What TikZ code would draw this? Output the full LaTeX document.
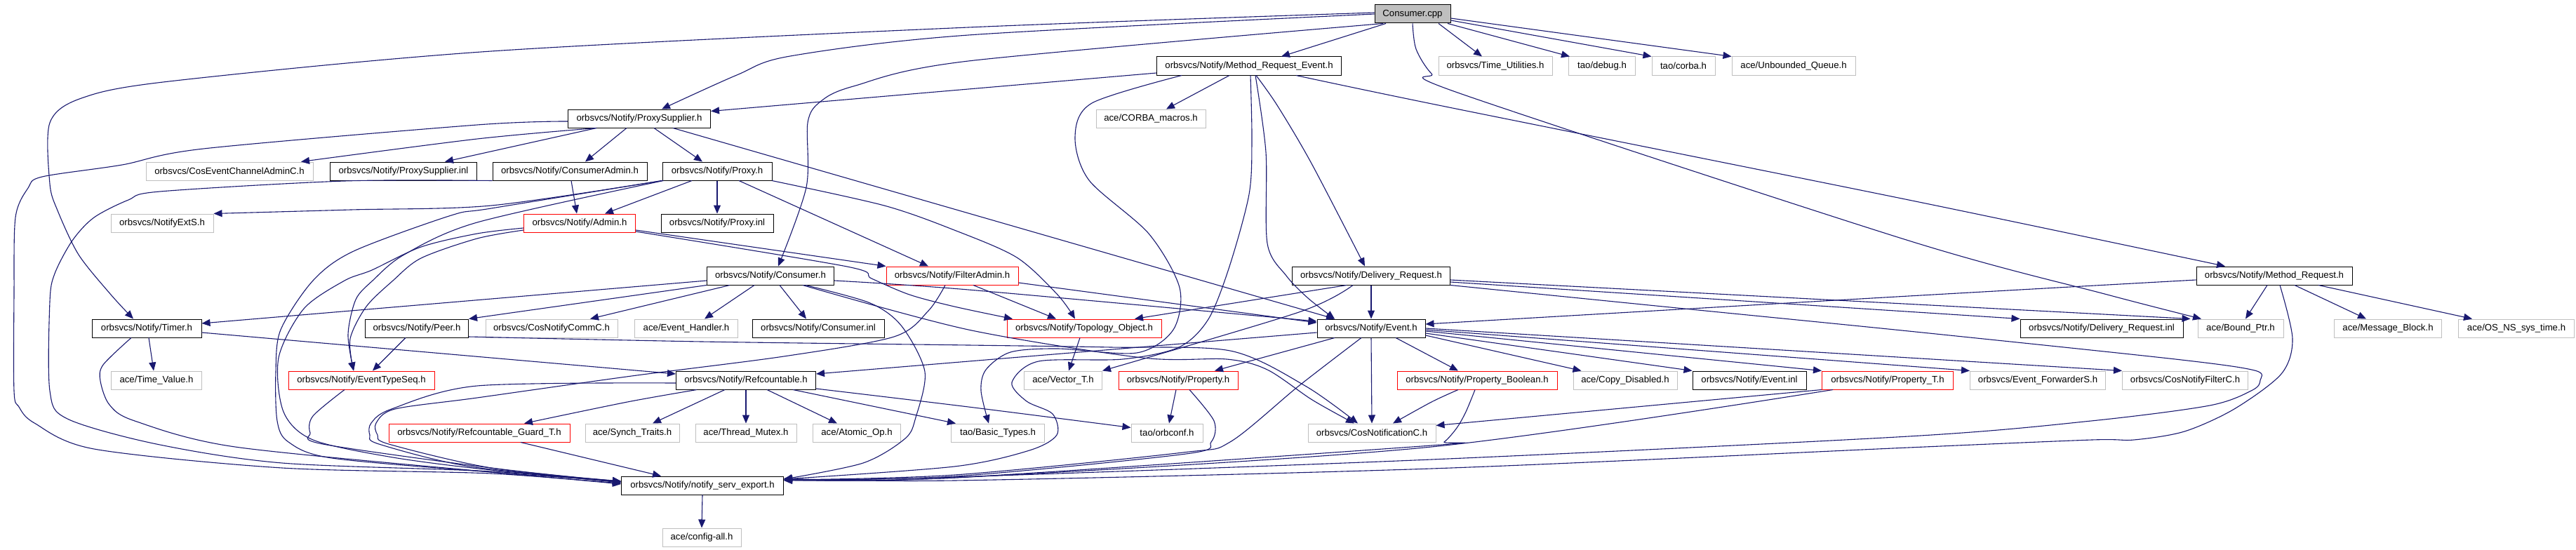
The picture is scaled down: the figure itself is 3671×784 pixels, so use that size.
\documentclass[tikz,border=0pt]{standalone}
\usepackage{fontspec}
\usetikzlibrary{arrows.meta}
\newfontfamily\lsans{Liberation Sans}
\newcommand\nodefnt{\lsans\fontsize{13.2bp}{15bp}\selectfont}
\definecolor{edgec}{HTML}{191970}
\definecolor{gray75}{HTML}{BFBFBF}
\begin{document}
\begin{tikzpicture}[x=1bp,y=-1bp,
  nd/.style={draw=black, fill=white, line width=1bp, minimum height=26bp, inner sep=0pt, font=\nodefnt, text=black},
  nr/.style={nd, draw=red},
  ng/.style={nd, draw=gray75},
  e/.style={draw=edgec, line width=1.1bp, -{Triangle[length=12bp,width=10bp]}},
  sm/.style={smooth, tension=0.5}]
\fill[white] (0,0) rectangle (3671,784);
\useasboundingbox (0,0) rectangle (3671,784);
% nodes
\node[nd, fill=gray75, minimum width=108bp] (C) at (2013,20) {Consumer.cpp};
\node[nd, minimum width=263bp] (MRE) at (1780,94) {orbsvcs/Notify/Method\_Request\_Event.h};
\node[ng, minimum width=162bp] (TU) at (2131,94) {orbsvcs/Time\_Utilities.h};
\node[ng, minimum width=95bp] (TD) at (2283,94) {tao/debug.h};
\node[ng, minimum width=90bp] (TC) at (2399,94) {tao/corba.h};
\node[ng, minimum width=176bp] (UQ) at (2556,94) {ace/Unbounded\_Queue.h};
\node[nd, minimum width=203bp] (PS) at (911,169) {orbsvcs/Notify/ProxySupplier.h};
\node[ng, minimum width=156bp] (CM) at (1640,169) {ace/CORBA\_macros.h};
\node[ng, minimum width=238bp] (CEC) at (327,244) {orbsvcs/CosEventChannelAdminC.h};
\node[nd, minimum width=209bp] (PSI) at (575,244) {orbsvcs/Notify/ProxySupplier.inl};
\node[nd, minimum width=220bp] (CA) at (812,244) {orbsvcs/Notify/ConsumerAdmin.h};
\node[nd, minimum width=156bp] (PX) at (1022,244) {orbsvcs/Notify/Proxy.h};
\node[ng, minimum width=146bp] (NES) at (231,318) {orbsvcs/NotifyExtS.h};
\node[nr, minimum width=159bp] (AD) at (826,318) {orbsvcs/Notify/Admin.h};
\node[nd, minimum width=160bp] (PXI) at (1022,318) {orbsvcs/Notify/Proxy.inl};
\node[nd, minimum width=181bp] (CN) at (1098,393) {orbsvcs/Notify/Consumer.h};
\node[nr, minimum width=188bp] (FA) at (1357,393) {orbsvcs/Notify/FilterAdmin.h};
\node[nd, minimum width=225bp] (DR) at (1954,393) {orbsvcs/Notify/Delivery\_Request.h};
\node[nd, minimum width=222bp] (MR) at (3241,393) {orbsvcs/Notify/Method\_Request.h};
\node[nd, minimum width=156bp] (TM) at (209,468) {orbsvcs/Notify/Timer.h};
\node[nd, minimum width=147bp] (PE) at (594,468) {orbsvcs/Notify/Peer.h};
\node[ng, minimum width=188bp] (CNC) at (786,468) {orbsvcs/CosNotifyCommC.h};
\node[ng, minimum width=147bp] (EH) at (978,468) {ace/Event\_Handler.h};
\node[nd, minimum width=188bp] (CI) at (1166,468) {orbsvcs/Notify/Consumer.inl};
\node[nr, minimum width=220bp] (TO) at (1545,468) {orbsvcs/Notify/Topology\_Object.h};
\node[nd, minimum width=154bp] (EV) at (1954,468) {orbsvcs/Notify/Event.h};
\node[nd, minimum width=232bp] (DRI) at (2995,468) {orbsvcs/Notify/Delivery\_Request.inl};
\node[ng, minimum width=122bp] (BP) at (3193,468) {ace/Bound\_Ptr.h};
\node[ng, minimum width=153bp] (MB) at (3403,468) {ace/Message\_Block.h};
\node[ng, minimum width=165bp] (OS) at (3586,468) {ace/OS\_NS\_sys\_time.h};
\node[ng, minimum width=129bp] (TV) at (223,542) {ace/Time\_Value.h};
\node[nr, minimum width=208bp] (ETS) at (515,542) {orbsvcs/Notify/EventTypeSeq.h};
\node[nd, minimum width=199bp] (RC) at (1063,542) {orbsvcs/Notify/Refcountable.h};
\node[ng, minimum width=111bp] (VT) at (1515,542) {ace/Vector\_T.h};
\node[nr, minimum width=170bp] (PR) at (1679,542) {orbsvcs/Notify/Property.h};
\node[nr, minimum width=228bp] (PB) at (2105,542) {orbsvcs/Notify/Property\_Boolean.h};
\node[ng, minimum width=148bp] (CD) at (2316,542) {ace/Copy\_Disabled.h};
\node[nd, minimum width=162bp] (EI) at (2493,542) {orbsvcs/Notify/Event.inl};
\node[nr, minimum width=187bp] (PT) at (2690,542) {orbsvcs/Notify/Property\_T.h};
\node[ng, minimum width=193bp] (EF) at (2904,542) {orbsvcs/Event\_ForwarderS.h};
\node[ng, minimum width=179bp] (CFC) at (3114,542) {orbsvcs/CosNotifyFilterC.h};
\node[nr, minimum width=258bp] (RG) at (683,617) {orbsvcs/Notify/Refcountable\_Guard\_T.h};
\node[ng, minimum width=134bp] (ST) at (901,617) {ace/Synch\_Traits.h};
\node[ng, minimum width=144bp] (TMX) at (1063,617) {ace/Thread\_Mutex.h};
\node[ng, minimum width=125bp] (AO) at (1221,617) {ace/Atomic\_Op.h};
\node[ng, minimum width=133bp] (BT) at (1422,617) {tao/Basic\_Types.h};
\node[ng, minimum width=102bp] (OC) at (1663,617) {tao/orbconf.h};
\node[ng, minimum width=182bp] (CNN) at (1955,617) {orbsvcs/CosNotificationC.h};
\node[nd, minimum width=231bp] (EX) at (1001,692) {orbsvcs/Notify/notify\_serv\_export.h};
\node[ng, minimum width=112bp] (CFG) at (1000,766) {ace/config-all.h};
% Consumer.cpp
\draw[e] ([xshift=-38bp]C.south) -- ([xshift=46bp]MRE.north);
\draw[e] ([xshift=37bp]C.south) -- ([xshift=-19bp]TU.north);
\draw[e] ([xshift=50bp]C.south) -- ([xshift=2bp]TD.north west);
\draw[e] ([yshift=-9bp]C.east) -- (TC.north west);
\draw[e] ([yshift=-6bp]C.east) -- (UQ.north west);
\draw[e] plot[sm] coordinates {(C.south) (2018,70) (2040,105) (2080,133) (2720,343) (3003,420) ([xshift=-56bp]BP.north)};
\draw[e] plot[sm] coordinates {(C.west) (1380,50) (1126,80) (1050,107) ([xshift=32bp]PS.north)};
\draw[e] plot[sm] coordinates {([yshift=2bp]C.west) (1380,39) (700,73) (241,116) (116,140) (71,175) (71,262) (82,300) (112,363) (158,420) ([xshift=-19bp]TM.north)};
\draw[e] plot[sm] coordinates {([xshift=-42bp]C.south) (1380,87) (1216,123) (1169,145) (1151,175) (1149,267) ([xshift=11bp]CN.north)};
% Method_Request_Event.h
\draw[e] plot[sm] coordinates {([yshift=-10bp]MRE.west) (1380,127) ([yshift=-3bp]PS.north east)};
\draw[e] ([xshift=-28bp]MRE.south) -- ([xshift=22bp]CM.north);
\draw[e] plot[sm] coordinates {([xshift=10bp]MRE.south) (1820,150) (1869,233) ([xshift=-9bp]DR.north)};
\draw[e] plot[sm] coordinates {([xshift=67bp]MRE.south) (2060,152) (2720,285) ([xshift=-70bp]MR.north)};
\draw[e] plot[sm] coordinates {([xshift=9bp]MRE.south) (1804,217) (1806,347) (1833,393) (1864,425) ([xshift=-52bp]EV.north)};
\draw[e] plot[sm] coordinates {([xshift=2bp]MRE.south) (1784,200) (1780,277) (1752,380) (1722,455) (1680,495) (1600,512) (1480,515) (1442,545) (1463,572) (1500,590) (1506,620) (1467,642) (1360,665) ([yshift=9bp]EX.east)};
\draw[e] plot[sm] coordinates {([xshift=-96bp]MRE.south) (1556,147) (1532,195) (1552,257) (1637,333) (1681,410) (1672,470) (1620,503) (1507,497) (1440,502) (1405,527) (1398,557) ([xshift=-13bp]BT.north)};
% ProxySupplier.h
\draw[e] ([xshift=-61bp]PS.south) -- ([xshift=59bp]PSI.north);
\draw[e] plot[sm] coordinates {([xshift=-61bp]PS.south) (680,198) ([xshift=102bp]CEC.north)};
\draw[e] ([xshift=-18bp]PS.south) -- ([xshift=22bp]CA.north);
\draw[e] ([xshift=21bp]PS.south) -- ([xshift=-21bp]PX.north);
\draw[e] ([xshift=48bp]PS.south) -- ([xshift=-52bp]EV.north);
\draw[e] plot[sm] coordinates {([yshift=-4bp]PS.west) (680,178) (290,212) (174,235) (60,252) (40,268) (22,310) (20,420) (20,557) (27,580) (49,603) (134,640) (402,667) (700,675) ([yshift=2bp]EX.west)};
% ConsumerAdmin.h
\draw[e] ([xshift=2bp]CA.south) -- ([xshift=-4bp]AD.north);
\draw[e] plot[sm] coordinates {(CA.south west) (491,258) (228,273) (183,285) (134,310) (103,343) (78,390) (71,430) (71,557) (96,597) (223,633) (402,660) (700,672) ([yshift=4bp]EX.west)};
% Proxy.h
\draw[e] ([xshift=-36bp]PX.south) -- ([xshift=36bp]AD.north);
\draw[e] (PX.south) -- (PXI.north);
\draw[e] ([xshift=31bp]PX.south) -- ([xshift=-34bp]FA.north);
\draw[e] plot[sm] coordinates {([xshift=78bp]PX.south) (1260,293) (1360,328) (1449,367) (1507,420) ([xshift=-13bp]TO.north)};
\draw[e] plot[sm] coordinates {(PX.south west) (700,293) (500,299) (NES.north east)};
\draw[e] plot[sm] coordinates {(PX.south west) (700,297) (643,307) (504,358) (446,400) (400,470) (393,530) (395,600) (411,630) (473,653) (700,673) ([yshift=6bp]EX.west)};
\draw[e] plot[sm] coordinates {([xshift=2bp]PX.south west) (680,317) (576,363) (531,400) (507,427) (496,477) ([xshift=-11bp]ETS.north)};
% Admin.h
\draw[e] ([yshift=-10bp]AD.east) -- (FA.north west);
\draw[e] plot[sm] coordinates {([yshift=-12bp]AD.east) (1207,380) (1242,397) (1296,420) (1360,437) ([xshift=-102bp]TO.north)};
\draw[e] plot[sm] coordinates {([yshift=-7bp]AD.west) (680,333) (600,352) (530,385) (491,400) (433,440) (397,510) (404,587) (446,627) (560,652) (700,670) ([yshift=6bp]EX.west)};
\draw[e] plot[sm] coordinates {([yshift=-10bp]AD.west) (680,340) (600,368) (560,400) (522,437) (499,483) ([xshift=-11bp]ETS.north)};
% Consumer.h
\draw[e] ([yshift=-7bp]CN.west) -- ([yshift=7bp]TM.east);
\draw[e] (CN.south west) -- (PE.north east);
\draw[e] ([xshift=-58bp]CN.south) -- ([xshift=55bp]CNC.north);
\draw[e] ([xshift=-23bp]CN.south) -- ([xshift=26bp]EH.north);
\draw[e] ([xshift=13bp]CN.south) -- ([xshift=-17bp]CI.north);
\draw[e] plot[sm] coordinates {([yshift=-7bp]CN.east) (1380,413) ([yshift=10bp]EV.west)};
\draw[e] plot[sm] coordinates {([xshift=46bp]CN.south) (1380,470) (1628,510) (1748,512) (1806,527) (1870,570) ([xshift=-25bp]CNN.north)};
\draw[e] plot[sm] coordinates {([xshift=50bp]CN.south) (1240,432) (1285,465) (1318,530) (1305,595) (1290,625) (1230,660) ([yshift=9bp]EX.east)};
% FilterAdmin.h
\draw[e] ([xshift=30bp]FA.south) -- ([xshift=-40bp]TO.north);
\draw[e] ([yshift=-10bp]FA.east) -- ([yshift=8bp]EV.west);
\draw[e] plot[sm] coordinates {([xshift=-10bp]FA.south) (1323,443) (1274,480) (1117,508) (900,536) (680,567) (563,583) (536,603) (538,620) (554,633) (700,667) ([yshift=6bp]EX.west)};
% Refcountable.h
\draw[e] plot[sm] coordinates {([yshift=-4bp]RC.west) (680,550) (558,583) (529,603) (527,620) (540,633) (670,665) ([yshift=5bp]EX.west)};
\draw[e] plot[sm] coordinates {([xshift=-70bp]RC.south) (894,573) ([xshift=64bp]RG.north)};
\draw[e] ([xshift=-30bp]RC.south) -- ([xshift=29bp]ST.north);
\draw[e] (RC.south) -- (TMX.north);
\draw[e] ([xshift=30bp]RC.south) -- ([xshift=-28bp]AO.north);
\draw[e] ([xshift=67bp]RC.south) -- ([xshift=7bp]BT.north west);
\draw[e] plot[sm] coordinates {([yshift=-12bp]RC.east) (1380,580) ([yshift=-6bp]OC.north west)};
% Timer.h
\draw[e] ([xshift=3bp]TM.south) -- ([xshift=-4bp]TV.north);
\draw[e] ([yshift=-6bp]TM.east) -- ([yshift=9bp]RC.west);
\draw[e] plot[sm] coordinates {([xshift=-22bp]TM.south) (147,520) (143,543) (156,577) (192,600) (335,637) (700,673) ([yshift=3bp]EX.west)};
% Peer.h
\draw[e] ([xshift=-16bp]PE.south) -- ([xshift=16bp]ETS.north);
\draw[e] plot[sm] coordinates {([yshift=-12bp]PE.east) (1000,487) (1380,492) (1583,495) (1753,500) (1860,550) ([xshift=-20bp]CNN.north)};
% EventTypeSeq.h, Guard, export
\draw[e] plot[sm] coordinates {([xshift=-24bp]ETS.south) (446,593) (442,617) (460,633) (700,667) ([yshift=5bp]EX.west)};
\draw[e] ([xshift=59bp]RG.south) -- ([xshift=-59bp]EX.north);
\draw[e] (EX.south) -- (CFG.north);
% Topology_Object.h
\draw[e] ([xshift=-6bp]TO.south) -- ([xshift=8bp]VT.north);
% Delivery_Request.h
\draw[e] ([xshift=-35bp]DR.south) -- ([xshift=72bp]TO.north);
\draw[e] plot[sm] coordinates {([xshift=-26bp]DR.south) (1851,445) (VT.north east)};
\draw[e] (DR.south) -- (EV.north);
\draw[e] ([yshift=-9bp]DR.east) -- (DRI.north west);
\draw[e] ([yshift=-6bp]DR.east) -- ([xshift=-10bp]BP.north west);
\draw[e] plot[sm] coordinates {(DR.south east) (2400,440) (2720,472) (3100,512) (3213,528) (3221,542) (3210,556) (3149,578) (2980,600) (2720,622) (2040,655) (1360,680) ([yshift=7bp]EX.east)};
% Method_Request.h
\draw[e] plot[sm] coordinates {([yshift=-6bp]MR.west) (2720,422) ([yshift=6bp]EV.east)};
\draw[e] ([xshift=-10bp]MR.south) -- ([xshift=7bp]BP.north);
\draw[e] ([xshift=29bp]MR.south) -- ([xshift=-31bp]MB.north);
\draw[e] ([xshift=63bp]MR.south) -- ([xshift=-63bp]OS.north);
\draw[e] plot[sm] coordinates {([xshift=8bp]MR.south) (3267,483) (3251,533) (3184,583) (3113,615) (3041,627) (2981,627) (2720,638) (2040,668) (1360,685) ([yshift=10bp]EX.east)};
% Event.h
\draw[e] ([xshift=-52bp]EV.south) -- ([xshift=52bp]PR.north);
\draw[e] ([yshift=-6bp]EV.west) -- ([yshift=9bp]RC.east);
\draw[e] (EV.south) -- (CNN.north);
\draw[e] plot[sm] coordinates {([xshift=-14bp]EV.south) (1851,550) (1753,630) (1686,645) (1360,677) ([yshift=8bp]EX.east)};
\draw[e] ([xshift=35bp]EV.south) -- ([xshift=-27bp]PB.north);
\draw[e] ([yshift=-10bp]EV.east) -- ([xshift=12bp]CD.north west);
\draw[e] ([yshift=-7bp]EV.east) -- (EI.north west);
\draw[e] ([yshift=-4bp]EV.east) -- (PT.north west);
\draw[e] ([yshift=-2bp]EV.east) -- (EF.north west);
\draw[e] (EV.east) -- (CFC.north west);
% Property.h
\draw[e] ([xshift=-3bp]PR.south) -- ([xshift=3bp]OC.north);
\draw[e] plot[sm] coordinates {([xshift=16bp]PR.south) (1730,600) (1726,630) (1690,647) (1360,679) ([yshift=8bp]EX.east)};
% Property_Boolean.h
\draw[e] plot[sm] coordinates {([xshift=-27bp]PB.south) (2040,573) ([xshift=30bp]CNN.north)};
\draw[e] plot[sm] coordinates {([xshift=-3bp]PB.south) (2089,587) (2076,610) (2058,630) (2040,635) (1360,681) ([yshift=8bp]EX.east)};
% Property_T.h
\draw[e] (PT.south west) -- ([yshift=-3bp]CNN.north east);
\draw[e] plot[sm] coordinates {([xshift=-78bp]PT.south) (2040,637) (1360,681) ([yshift=8bp]EX.east)};
\end{tikzpicture}
\end{document}
